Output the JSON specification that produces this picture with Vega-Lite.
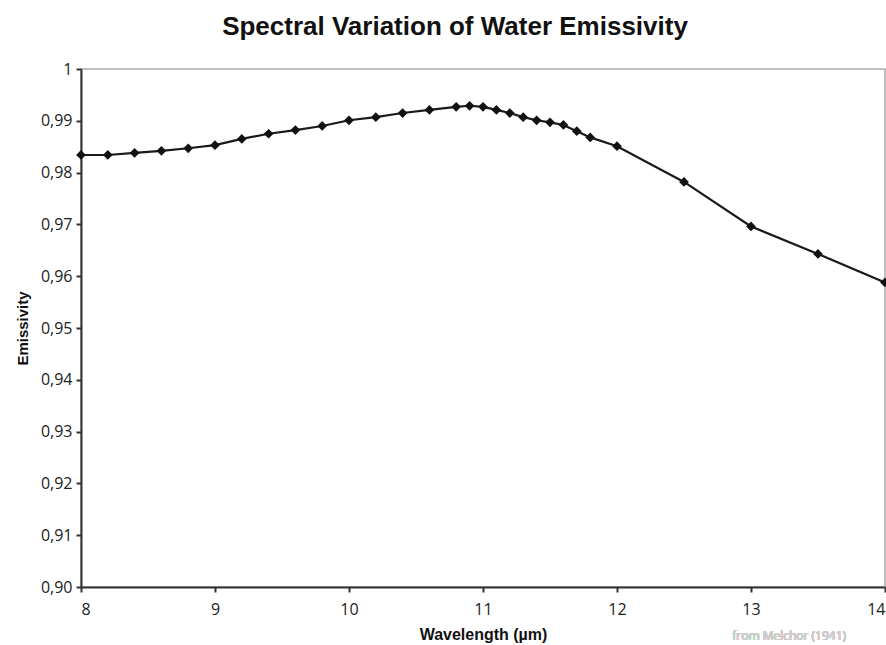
{
  "$schema": "https://vega.github.io/schema/vega-lite/v6.json",
  "autosize": {"type": "none"},
  "width": 804,
  "height": 518,
  "padding": {"left": 81, "top": 69, "right": 1, "bottom": 58},
  "background": "white",
  "title": {
    "text": "Spectral Variation of Water Emissivity",
    "font": "Liberation Sans",
    "fontSize": 26,
    "fontWeight": "bold",
    "color": "#111",
    "anchor": "middle",
    "dx": -28,
    "offset": 21
  },
  "config": {
    "view": {"stroke": "#aaa", "strokeWidth": 1.5},
    "axis": {
      "domainColor": "#333",
      "domainWidth": 2,
      "tickColor": "#333",
      "tickWidth": 2,
      "tickSize": 5,
      "grid": false,
      "labelFont": "Open Sans",
      "labelFontSize": 16,
      "labelColor": "#222",
      "titleFont": "Liberation Sans",
      "titleFontWeight": "bold",
      "titleColor": "#111"
    }
  },
  "data": {
    "values": [
      {"wavelength": 8.0, "emissivity": 0.9834},
      {"wavelength": 8.2, "emissivity": 0.9834},
      {"wavelength": 8.4, "emissivity": 0.9838},
      {"wavelength": 8.6, "emissivity": 0.9842},
      {"wavelength": 8.8, "emissivity": 0.9847},
      {"wavelength": 9.0, "emissivity": 0.9853},
      {"wavelength": 9.2, "emissivity": 0.9865},
      {"wavelength": 9.4, "emissivity": 0.9875},
      {"wavelength": 9.6, "emissivity": 0.9882},
      {"wavelength": 9.8, "emissivity": 0.9890},
      {"wavelength": 10.0, "emissivity": 0.9901},
      {"wavelength": 10.2, "emissivity": 0.9907},
      {"wavelength": 10.4, "emissivity": 0.9915},
      {"wavelength": 10.6, "emissivity": 0.9921},
      {"wavelength": 10.8, "emissivity": 0.9927},
      {"wavelength": 10.9, "emissivity": 0.9929},
      {"wavelength": 11.0, "emissivity": 0.9927},
      {"wavelength": 11.1, "emissivity": 0.9921},
      {"wavelength": 11.2, "emissivity": 0.9915},
      {"wavelength": 11.3, "emissivity": 0.9907},
      {"wavelength": 11.4, "emissivity": 0.9901},
      {"wavelength": 11.5, "emissivity": 0.9897},
      {"wavelength": 11.6, "emissivity": 0.9892},
      {"wavelength": 11.7, "emissivity": 0.9880},
      {"wavelength": 11.8, "emissivity": 0.9868},
      {"wavelength": 12.0, "emissivity": 0.9851},
      {"wavelength": 12.5, "emissivity": 0.9782},
      {"wavelength": 13.0, "emissivity": 0.9696},
      {"wavelength": 13.5, "emissivity": 0.9643},
      {"wavelength": 14.0, "emissivity": 0.9588}
    ]
  },
  "encoding": {
    "x": {
      "field": "wavelength",
      "type": "quantitative",
      "scale": {"domain": [8, 14], "nice": false, "zero": false},
      "axis": {
        "title": "Wavelength (\u00b5m)",
        "values": [8, 9, 10, 11, 12, 13, 14],
        "format": "d",
        "labelPadding": 9,
        "titleFontSize": 16,
        "titlePadding": 9
      }
    },
    "y": {
      "field": "emissivity",
      "type": "quantitative",
      "scale": {"domain": [0.9, 1.0], "nice": false, "zero": false},
      "axis": {
        "title": "Emissivity",
        "values": [0.9, 0.91, 0.92, 0.93, 0.94, 0.95, 0.96, 0.97, 0.98, 0.99, 1.0],
        "labelExpr": "datum.value >= 0.9999 ? '1' : replace(format(datum.value, '.2f'), '.', ',')",
        "labelPadding": 4,
        "titleFontSize": 15,
        "titlePadding": 10
      }
    }
  },
  "layer": [
    {
      "mark": {"type": "line", "color": "#1a1a1a", "strokeWidth": 2.2}
    },
    {
      "mark": {"type": "point", "shape": "diamond", "filled": true, "color": "#111", "size": 95, "opacity": 1}
    },
    {
      "mark": {"type": "text", "align": "left", "baseline": "middle", "dy": 49, "fontSize": 12, "color": "#cccccc", "font": "Open Sans"},
      "encoding": {
        "x": {"datum": 12.86},
        "y": {"datum": 0.9},
        "text": {"value": "from Melchor (1941)"}
      }
    }
  ]
}
